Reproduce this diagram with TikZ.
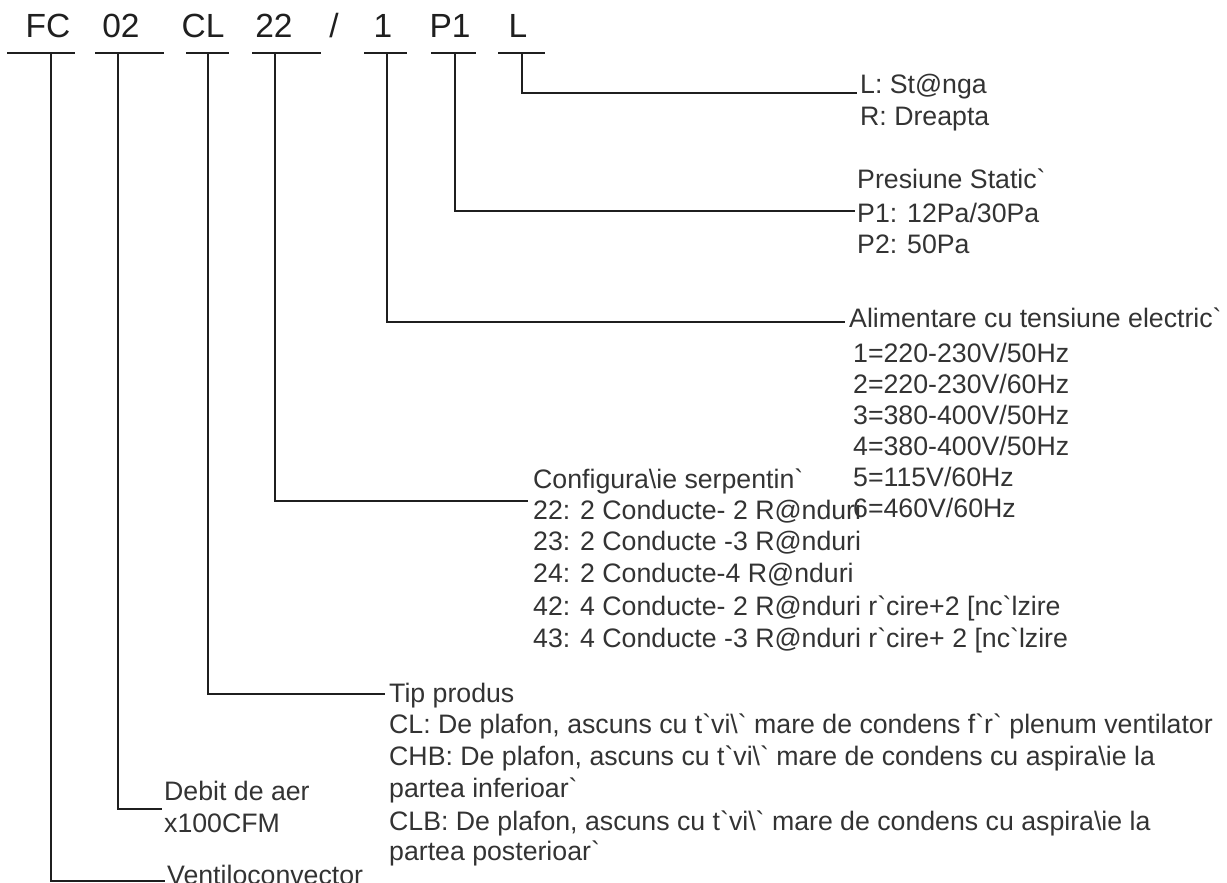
\documentclass[tikz,border=0pt]{standalone}
\usepackage{fontspec}
\setmainfont{Liberation Sans}[Ligatures=TeXOff]
\newcommand\grv{\symbol{96}}
\newcommand\bsl{\textbackslash}
\begin{document}
\begin{tikzpicture}[x=1pt,y=-1pt,
  code/.style={anchor=base, inner sep=0pt, font=\fontsize{33.5}{36}\selectfont, text=black!88},
  lbl/.style={anchor=base west, inner sep=0pt, font=\fontsize{26.7}{30}\selectfont, text=black!80},
  ln/.style={line width=1.9pt, draw=black!88},
  ]
\useasboundingbox (0,0) rectangle (1227,883);
% code letters
\node[code] (cFC) at (48,38) {FC};
\node[code] (c02) at (121,38) {02};
\node[code] (cCL) at (203,38) {CL};
\node[code] (c22) at (274,38) {22};
\node[code] (cSl) at (334,38) {/};
\node[code] (c1) at (383,38) {1};
\node[code] (cP1) at (450,38) {P1};
\node[code] (cL) at (518,38) {L};
% underline ends
\coordinate (aFC) at (7,53);   \coordinate (bFC) at (75,53);
\coordinate (a02) at (95,53);  \coordinate (b02) at (164,53);
\coordinate (aCL) at (186,53); \coordinate (bCL) at (229,53);
\coordinate (a22) at (252,53); \coordinate (b22) at (321,53);
\coordinate (a1) at (364,53);  \coordinate (b1) at (407,53);
\coordinate (aP1) at (431,53); \coordinate (bP1) at (476,53);
\coordinate (aL) at (498,53);  \coordinate (bL) at (545,53);
\foreach \n in {FC,02,CL,22,1,P1,L} \draw[ln] (a\n) -- (b\n);
% stems
\coordinate (sFC) at (51,53);
\coordinate (s02) at (118,53);
\coordinate (sCL) at (208,53);
\coordinate (s22) at (275,53);
\coordinate (s1) at (387,53);
\coordinate (sP1) at (455,53);
\coordinate (sL) at (522,53);
% connector ends
\coordinate (eL) at (857,93);
\coordinate (eP1) at (855,211);
\coordinate (e1) at (845,322);
\coordinate (e22) at (528,501);
\coordinate (eCL) at (385,694);
\coordinate (e02) at (162,809);
\coordinate (eFC) at (165,881);
\draw[ln] (sL) |- (eL);
\draw[ln] (sP1) |- (eP1);
\draw[ln] (s1) |- (e1);
\draw[ln] (s22) |- (e22);
\draw[ln] (sCL) |- (eCL);
\draw[ln] (s02) |- (e02);
\draw[ln] (sFC) |- (eFC);
% L block
\node[lbl] (l1) at (860,93) {L: St@nga};
\node[lbl] (l2) at (860,125) {R: Dreapta};
% P block
\node[lbl] (p0) at (857,188) {Presiune Static\grv};
\node[lbl] (p1) at (857,222) {P1: 12Pa/30Pa};
\node[lbl] (p2) at (857,253) {P2: 50Pa};
% power block
\node[lbl] (v0) at (849,327) {Alimentare cu tensiune electric\grv};
\node[lbl] (v1) at (853,362) {1=220-230V/50Hz};
\node[lbl] (v2) at (853,393) {2=220-230V/60Hz};
\node[lbl] (v3) at (853,424) {3=380-400V/50Hz};
\node[lbl] (v4) at (853,455) {4=380-400V/50Hz};
\node[lbl] (v5) at (853,486) {5=115V/60Hz};
\node[lbl] (v6) at (853,517) {6=460V/60Hz};
% coil block
\node[lbl] (k0) at (533,488) {Configura\bsl ie serpentin\grv};
\node[lbl] (k1) at (533,519) {22: 2 Conducte- 2 R@nduri};
\node[lbl] (k2) at (533,550) {23: 2 Conducte -3 R@nduri};
\node[lbl] (k3) at (533,582) {24: 2 Conducte-4 R@nduri};
\node[lbl] (k4) at (533,615) {42: 4 Conducte- 2 R@nduri r\grv cire+2 [nc\grv lzire};
\node[lbl] (k5) at (533,647) {43: 4 Conducte -3 R@nduri r\grv cire+ 2 [nc\grv lzire};
% type block
\node[lbl] (t0) at (389,702) {Tip produs};
\node[lbl] (t1) at (389,733) {CL: De plafon, ascuns cu t\grv vi\bsl\grv\ mare de condens f\grv r\grv\ plenum ventilator};
\node[lbl] (t2) at (389,765) {CHB: De plafon, ascuns cu t\grv vi\bsl\grv\ mare de condens cu aspira\bsl ie la};
\node[lbl] (t3) at (389,797) {partea inferioar\grv};
\node[lbl] (t4) at (389,830) {CLB: De plafon, ascuns cu t\grv vi\bsl\grv\ mare de condens cu aspira\bsl ie la};
\node[lbl] (t5) at (389,860) {partea posterioar\grv};
% airflow
\node[lbl] (d0) at (164,800) {Debit de aer};
\node[lbl] (d1) at (164,832) {x100CFM};
% unit
\node[lbl] (f0) at (167,884) {Ventiloconvector};
\end{tikzpicture}
\end{document}
